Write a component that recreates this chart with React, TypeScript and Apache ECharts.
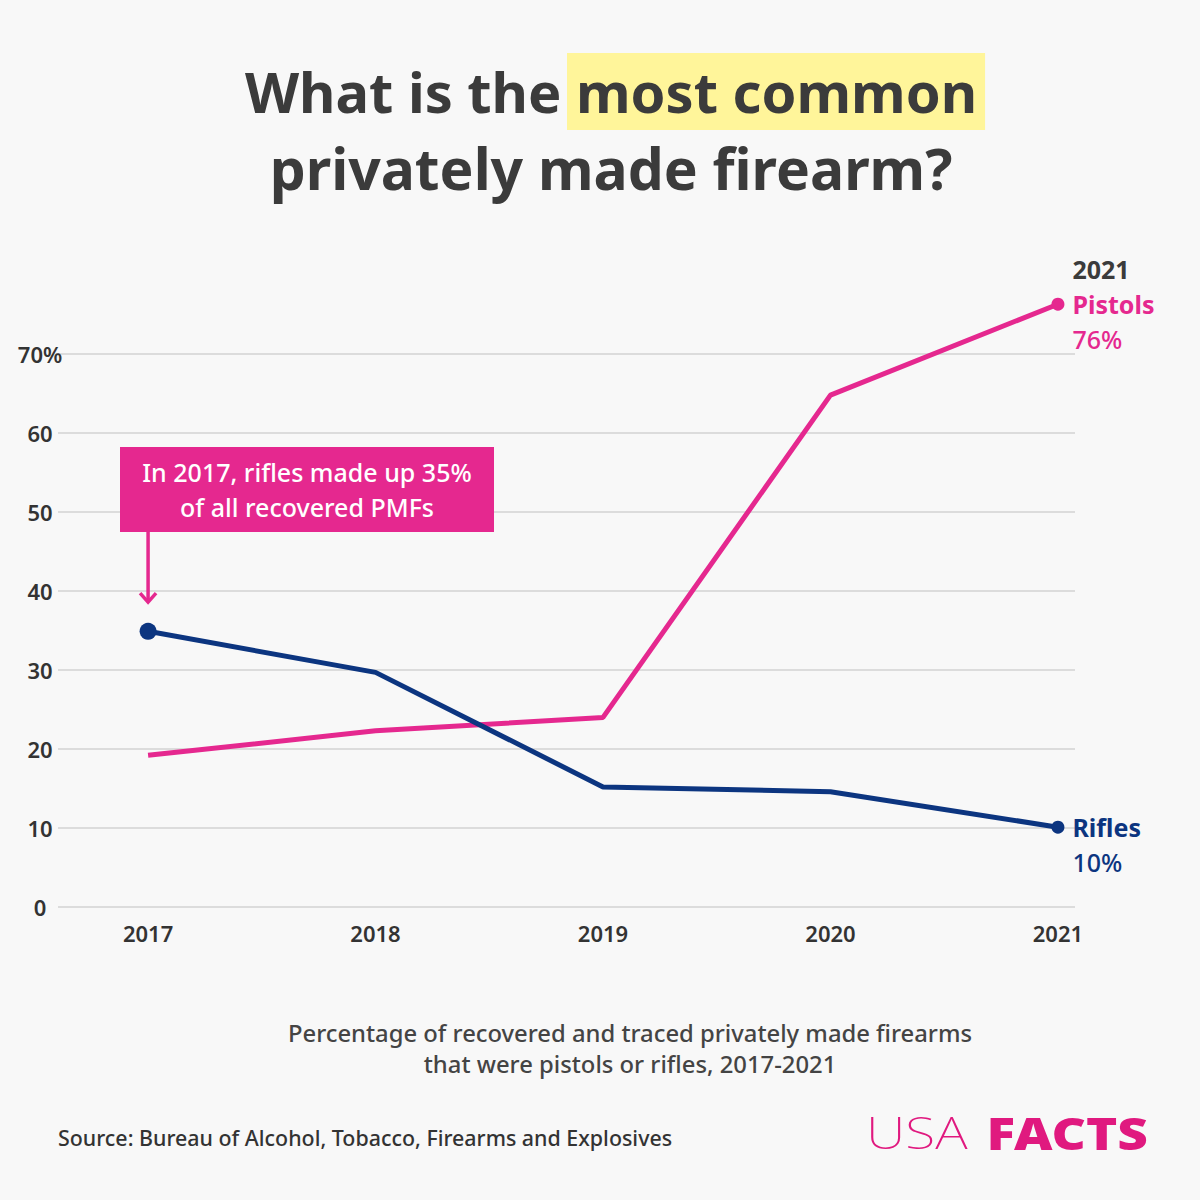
import React, { useEffect, useRef } from "react";
import * as echarts from "echarts";

const years = [2017, 2018, 2019, 2020, 2021];
const pistols = [19.2, 22.3, 24.0, 64.8, 76.3];
const rifles = [34.9, 29.7, 15.2, 14.6, 10.1];
const yTicks = [0, 10, 20, 30, 40, 50, 60, 70];

const PINK = "#e5288f";
const NAVY = "#0c3580";
const DARK = "#3b3b3b";
const FONT = "'Noto Sans', sans-serif";

function measure(text: string, font: string): number {
  const c = document.createElement("canvas").getContext("2d")!;
  c.font = font;
  return c.measureText(text).width;
}

export default function App() {
  const ref = useRef<HTMLDivElement>(null);
  useEffect(() => {
    document.body.style.margin = "0";
    document.body.style.background = "#f8f8f8";
    const chart = echarts.init(ref.current!, null, { renderer: "svg" });
    const pistolData = years.map((y, i) => {
      const last = i === years.length - 1;
      return {
        value: [y, pistols[i]],
        symbol: last ? "circle" : "none",
        symbolSize: last ? 13 : 0,
        label: last
          ? {
              show: true,
              position: "right",
              distance: 8,
              formatter: "{y|2021}\n{n|Pistols}\n{v|76%}",
              rich: {
                y: { fontFamily: FONT, fontWeight: "bold", fontSize: 25, color: DARK, lineHeight: 35 },
                n: { fontFamily: FONT, fontWeight: "bold", fontSize: 25, color: PINK, lineHeight: 35 },
                v: { fontFamily: FONT, fontWeight: 500, fontSize: 25, color: PINK, lineHeight: 35 },
              },
            }
          : { show: false },
      };
    });
    const rifleData = years.map((y, i) => {
      const first = i === 0;
      const last = i === years.length - 1;
      return {
        value: [y, rifles[i]],
        symbol: first || last ? "circle" : "none",
        symbolSize: first ? 17 : last ? 13 : 0,
        label: last
          ? {
              show: true,
              position: "right",
              distance: 8,
              offset: [0, 17],
              formatter: "{n|Rifles}\n{v|10%}",
              rich: {
                n: { fontFamily: FONT, fontWeight: "bold", fontSize: 25, color: NAVY, lineHeight: 35 },
                v: { fontFamily: FONT, fontWeight: 500, fontSize: 25, color: NAVY, lineHeight: 35 },
              },
            }
          : { show: false },
      };
    });

    chart.setOption({
      animation: false,
      backgroundColor: "#f8f8f8",
      textStyle: { fontFamily: FONT },
      grid: { left: 58, right: 125, top: 354, bottom: 293, containLabel: false },
      xAxis: {
        type: "value",
        min: 2016.604,
        max: 2021.075,
        axisLine: { show: false },
        axisTick: { show: false },
        splitLine: { show: false },
        axisLabel: {
          customValues: years,
          margin: 15,
          fontFamily: FONT,
          fontSize: 22,
          fontWeight: 600,
          color: "#333",
          formatter: (v: number) => String(v),
        },
      },
      yAxis: {
        type: "value",
        min: 0,
        max: 70,
        interval: 10,
        axisLine: { show: false },
        axisTick: { show: false },
        splitLine: { lineStyle: { color: "#dcdcdc", width: 2 } },
        axisLabel: {
          customValues: yTicks,
          align: "center",
          margin: 18,
          fontFamily: FONT,
          fontSize: 22,
          fontWeight: 600,
          color: "#333",
          formatter: (v: number) => (v === 70 ? "70%" : String(v)),
        },
      },
      series: [
        {
          type: "line",
          name: "Pistols",
          data: pistolData,
          clip: false,
          lineStyle: { color: PINK, width: 5 },
          itemStyle: { color: PINK },
          showSymbol: true,
          z: 3,
        },
        {
          type: "line",
          name: "Rifles",
          data: rifleData,
          clip: false,
          lineStyle: { color: NAVY, width: 5 },
          itemStyle: { color: NAVY },
          showSymbol: true,
          z: 4,
        },
      ],
    });

    const [ax] = chart.convertToPixel({ gridIndex: 0 }, [years[0], 0]) as number[];
    const tipY = (chart.convertToPixel({ gridIndex: 0 }, [years[0], rifles[0] + 3.7]) as number[])[1];
    const boxTop = 447;
    const boxBottom = 532;

    const titleFont = `bold 56px 'Noto Sans'`;
    const partA = "What is the ";
    const partB = "most common";
    const wA = measure(partA, titleFont);
    const wB = measure(partB, titleFont);
    const titleCenter = 611;
    const startX = titleCenter - (wA + wB) / 2;
    const bX = startX + wA;

    chart.setOption({
      graphic: [
        {
          type: "rect",
          shape: { x: bX - 9, y: 53, width: wB + 17, height: 77 },
          style: { fill: "#fff59a" },
          z: 1,
        },
        {
          type: "text",
          x: startX,
          y: 91,
          z: 2,
          style: {
            text: partA.trim(),
            fill: DARK,
            font: `bold 56px ${FONT}`,
            align: "left",
            verticalAlign: "middle",
          },
        },
        {
          type: "text",
          x: bX,
          y: 91,
          z: 2,
          style: {
            text: partB,
            fill: DARK,
            font: `bold 56px ${FONT}`,
            align: "left",
            verticalAlign: "middle",
          },
        },
        {
          type: "text",
          x: titleCenter,
          y: 168,
          z: 2,
          style: {
            text: "privately made firearm?",
            fill: DARK,
            font: `bold 57px ${FONT}`,
            align: "center",
            verticalAlign: "middle",
          },
        },
        {
          type: "rect",
          shape: { x: 120, y: boxTop, width: 374, height: boxBottom - boxTop },
          style: { fill: PINK },
        },
        {
          type: "text",
          x: 307,
          y: (boxTop + boxBottom) / 2,
          style: {
            text: "In 2017, rifles made up 35%\nof all recovered PMFs",
            fill: "#fff",
            font: `500 25px ${FONT}`,
            align: "center",
            verticalAlign: "middle",
            lineHeight: 35,
          },
        },
        {
          type: "line",
          shape: { x1: ax, y1: boxBottom, x2: ax, y2: tipY },
          style: { stroke: PINK, lineWidth: 3.5 },
        },
        {
          type: "polyline",
          shape: { points: [[ax - 8, tipY - 9], [ax, tipY], [ax + 8, tipY - 9]] },
          style: { stroke: PINK, lineWidth: 3.5, fill: "none" },
        },
        {
          type: "text",
          x: 630,
          y: 1048,
          style: {
            text: "Percentage of recovered and traced privately made firearms\nthat were pistols or rifles, 2017-2021",
            fill: "#444",
            font: `500 23.8px ${FONT}`,
            align: "center",
            verticalAlign: "middle",
            lineHeight: 31,
          },
        },
        {
          type: "text",
          x: 58,
          y: 1137,
          style: {
            text: "Source: Bureau of Alcohol, Tobacco, Firearms and Explosives",
            fill: "#333",
            font: `500 21.4px ${FONT}`,
            align: "left",
            verticalAlign: "middle",
          },
        },
        {
          type: "text",
          x: 866,
          y: 1132,
          scaleX: 1.22,
          style: {
            text: "USA",
            fill: "#e0197f",
            font: `200 45px ${FONT}`,
            align: "left",
            verticalAlign: "middle",
          },
        },
        {
          type: "text",
          x: 1148,
          y: 1132,
          scaleX: 1.18,
          style: {
            text: "FACTS",
            fill: "#e0197f",
            font: `900 45px ${FONT}`,
            align: "right",
            verticalAlign: "middle",
          },
        },
      ],
    });

    return () => chart.dispose();
  }, []);
  return (
    <div
      ref={ref}
      style={{ position: "fixed", left: 0, top: 0, width: 1200, height: 1200 }}
    />
  );
}
